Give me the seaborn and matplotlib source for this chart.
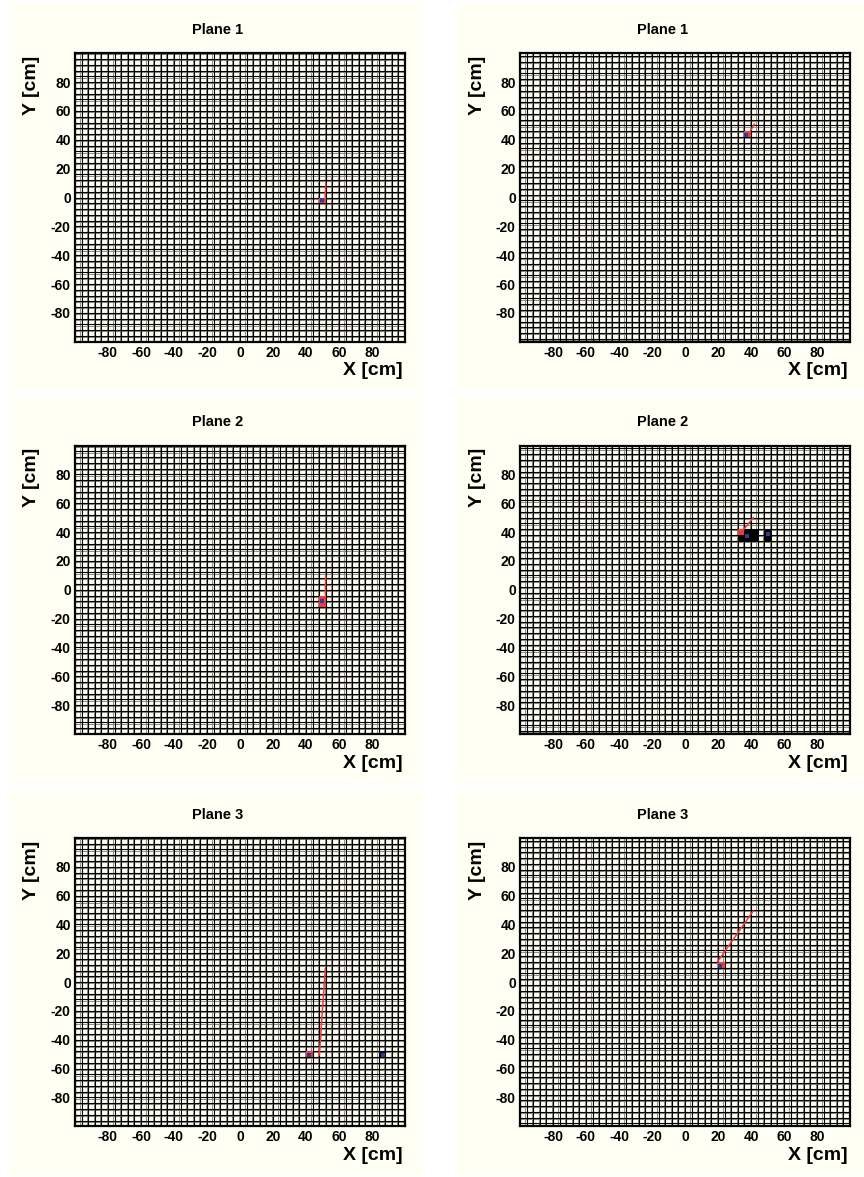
import numpy as np
import matplotlib
matplotlib.use("Agg")
import matplotlib.pyplot as plt
from matplotlib.patches import Rectangle
import seaborn as sns
import pandas as pd

sns.set_style("white")
plt.rcParams["font.family"] = ["Liberation Sans", "DejaVu Sans"]
plt.rcParams["font.weight"] = "bold"
plt.rcParams["text.color"] = "black"
plt.rcParams["xtick.color"] = "black"
plt.rcParams["ytick.color"] = "black"

# ---- data -------------------------------------------------------------
titles = ["Plane 1", "Plane 1", "Plane 2", "Plane 2", "Plane 3", "Plane 3"]
tick_values = [-80, -60, -40, -20, 0, 20, 40, 60, 80]

# strip pitch (cm) and vertical strip offset for each column of views
strip_pitch = 4
strip_offset_y = [0, 2]

# fired strip cells (lower-left corner, width, height) in cm
red_cells = [
    [(48, -4, 4, 4)],
    [(36, 42, 4, 4)],
    [(48, -12, 4, 8)],
    [(32, 38, 4, 4)],
    [(40, -52, 4, 4)],
    [(20, 10, 4, 4)],
]
black_cells = [
    [],
    [],
    [],
    [(32, 34, 12, 8), (48, 34, 4, 8)],
    [(84, -52, 4, 4)],
    [],
]

# reconstructed hit positions
hit_x = [[49.9], [36.8], [49.9], [37.8, 50.5], [41.8, 86.7], [21.2]]
hit_y = [[-1.6], [43.6], [-7.7], [37.5, 38.7], [-50.6, -50.6], [11.2]]

# track projection segments
track_x = [[51.6, 52.0], [39.8, 42.0], [51.7, 52.0], [35.8, 41.5], [48.1, 51.7], [19.6, 41.4]]
track_y = [[0.0, 9.8], [46.5, 51.0], [-3.0, 9.8], [42.2, 50.1], [-50.6, 9.5], [14.0, 49.4]]

# ---- figure -----------------------------------------------------------
W, H = 864, 1177
fig = plt.figure(figsize=(W / 100, H / 100), dpi=100, facecolor="white")

pad_color = "#fffff4"
red = "#f23a3a"
blue = "#2b3c9e"

col_left = [75, 520]
row_top = [53.3, 445.6, 837.9]
ax_w, ax_h = 330, 288.4

for i in range(6):
    r, c = divmod(i, 2)
    # pad background
    px0 = 10 + c * 445
    py0 = 5 + r * 392.3
    fig.patches.append(Rectangle((px0 / W, 1 - (py0 + 385) / H), 412 / W, 385 / H,
                                 transform=fig.transFigure, facecolor=pad_color,
                                 edgecolor="none", zorder=-5))
    x0 = col_left[c]
    y0 = row_top[r]
    ax = fig.add_axes([x0 / W, 1 - (y0 + ax_h) / H, ax_w / W, ax_h / H])
    ax.set_zorder(2)
    ax.set_facecolor(pad_color)
    ax.set_xlim(-100, 100)
    ax.set_ylim(-100, 100)

    # strip outlines: each boundary shows a dark edge with a softer neighbour
    xs = np.arange(-100, 101, strip_pitch)
    ys = np.arange(-100, 101, strip_pitch) + strip_offset_y[c]
    for v in xs:
        ax.axvline(v - 0.7, color="#8e8e86", lw=0.75, zorder=1)
        ax.axvline(v, color="black", lw=0.8, zorder=2)
    for v in ys:
        ax.axhline(v - 0.8, color="#8e8e86", lw=0.75, zorder=1)
        ax.axhline(v, color="black", lw=0.8, zorder=2)

    for (cx, cy, cw, ch) in black_cells[i]:
        ax.bar(cx, ch, width=cw, bottom=cy, align="edge", color="black",
               edgecolor="none", zorder=3)
    for (cx, cy, cw, ch) in red_cells[i]:
        ax.bar(cx, ch, width=cw, bottom=cy, align="edge", color=red,
               edgecolor="none", zorder=4)

    tr = pd.DataFrame({"x": track_x[i], "y": track_y[i]})
    sns.lineplot(data=tr, x="x", y="y", color=red, lw=1.1, sort=False,
                 ax=ax, zorder=5, estimator=None)
    hits = pd.DataFrame({"x": hit_x[i], "y": hit_y[i]})
    sns.scatterplot(data=hits, x="x", y="y", color=blue, marker="s", s=5,
                    linewidth=0, ax=ax, zorder=6)

    ax.set_xticks(tick_values)
    ax.set_yticks(tick_values)
    ax.set_xticklabels([str(t) for t in tick_values], fontsize=10, fontweight="bold")
    ax.set_yticklabels([str(t) for t in tick_values], fontsize=10, fontweight="bold")
    ax.tick_params(length=0, pad=3)
    ax.set_xlabel("")
    ax.set_ylabel("")
    for s in ax.spines.values():
        s.set_visible(True)
        s.set_color("black")
        s.set_linewidth(1.6)
        s.set_zorder(7)

    # axis titles
    fig.text((x0 + ax_w - 2) / W, 1 - (y0 + ax_h + 29) / H, "X [cm]", ha="right",
             va="center", fontsize=14, fontweight="bold")
    fig.text((x0 - 43) / W, 1 - (y0 + 32) / H, "Y [cm]", ha="center", va="center",
             rotation=90, fontsize=14, fontweight="bold")
    fig.text((px0 + 208) / W, 1 - (py0 + 25) / H, titles[i], ha="center", va="center",
             fontsize=10.5, fontweight="bold")

fig.savefig("out.png", dpi=100, facecolor="white")
